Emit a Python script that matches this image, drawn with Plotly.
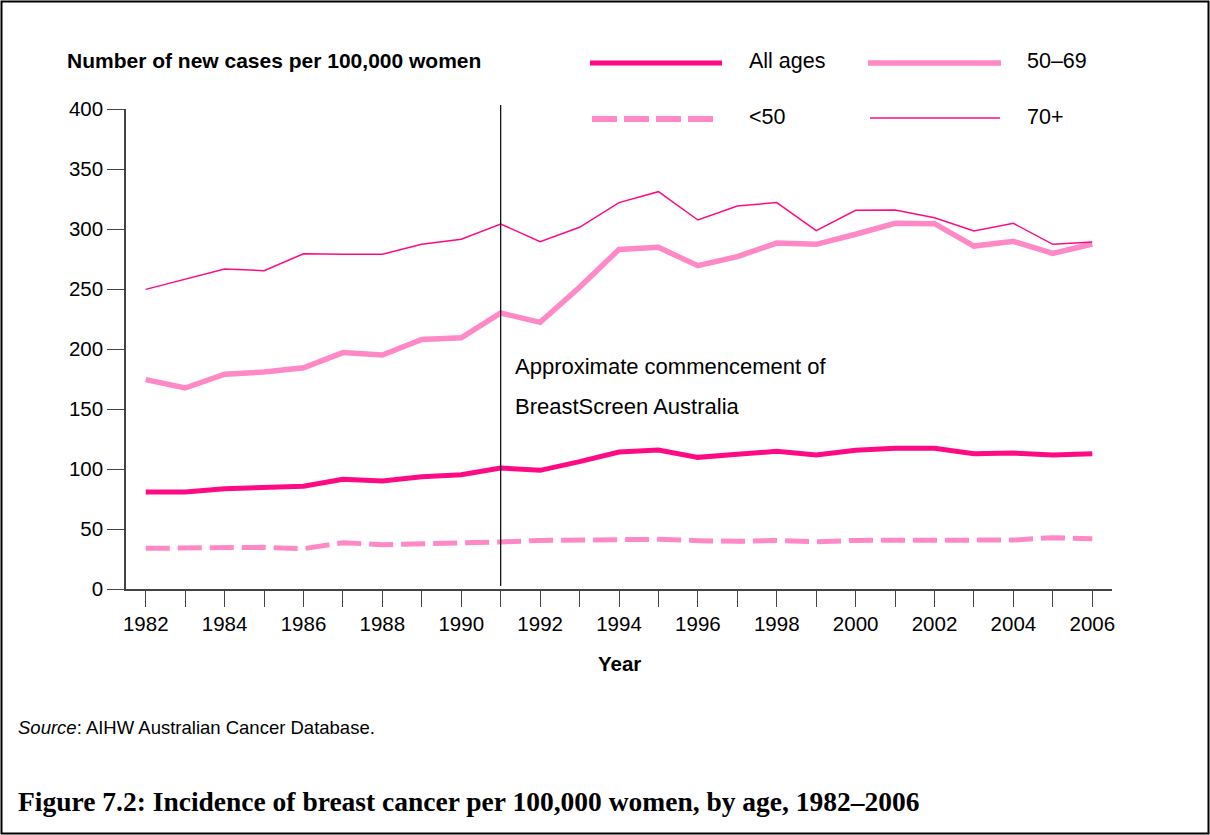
import plotly.graph_objects as go

# ---------------- data ----------------
years = [1982, 1983, 1984, 1985, 1986, 1987, 1988, 1989, 1990, 1991, 1992, 1993,
         1994, 1995, 1996, 1997, 1998, 1999, 2000, 2001, 2002, 2003, 2004, 2005, 2006]

all_ages = [80.8, 80.8, 83.6, 84.4, 85.6, 91.4, 90.0, 93.6, 95.3, 100.8, 98.9, 106.1,
            114.2, 115.8, 109.7, 112.2, 114.7, 111.7, 115.6, 117.2, 117.2, 112.8, 113.3, 111.7, 112.8]

under_50 = [33.9, 34.2, 34.4, 34.7, 33.6, 38.6, 36.9, 37.5, 38.3, 39.2, 40.5, 40.5,
            41.4, 41.4, 40.3, 39.7, 40.5, 39.4, 40.5, 40.5, 41.4, 41.4, 40.8, 42.8, 41.9]

age_50_69 = [174.5, 167.5, 179.0, 180.8, 184.4, 197.0, 195.0, 208.0, 209.4, 230.0, 222.2, 251.4,
             283.0, 284.7, 269.4, 277.0, 288.3, 287.2, 295.6, 304.7, 304.4, 285.8, 289.7, 279.7, 287.5]

age_70_plus = [249.7, 258.0, 266.7, 265.3, 279.4, 279.0, 279.0, 287.2, 291.4, 304.2, 289.4, 301.4,
               322.0, 331.1, 307.5, 319.2, 322.0, 298.6, 315.6, 315.8, 309.4, 298.3, 304.7, 287.2, 289.2]

y_ticks = [0, 50, 100, 150, 200, 250, 300, 350, 400]
x_tick_labels = [str(y) if y % 2 == 0 else "" for y in years]

series_names = ["All ages", "50\u201369", "<50", "70+"]
screen_start_year = 1991

# ---------------- style ----------------
DEEP = "#FF0A85"
LIGHT = "#FF88C6"
FONT = "Liberation Sans, Arial, sans-serif"
SERIF = "Liberation Serif, Times New Roman, serif"

W, H = 1210, 835
ML, MR, MT, MB = 126, 98, 109, 246
PW, PH = W - ML - MR, H - MT - MB


def px(x):
    return (x - ML) / PW


def py(y):
    return (H - MB - y) / PH


fig = go.Figure()
fig.add_trace(go.Scatter(x=years, y=age_50_69, mode="lines", name=series_names[1],
                         line=dict(color=LIGHT, width=5.5)))
fig.add_trace(go.Scatter(x=years, y=age_70_plus, mode="lines", name=series_names[3],
                         line=dict(color=DEEP, width=1.5)))
fig.add_trace(go.Scatter(x=years, y=under_50, mode="lines", name=series_names[2],
                         line=dict(color=LIGHT, width=5, dash="24px,8px")))
fig.add_trace(go.Scatter(x=years, y=all_ages, mode="lines", name=series_names[0],
                         line=dict(color=DEEP, width=5)))

shapes = []
annotations = []

# vertical marker line
shapes.append(dict(type="line", xref="x", yref="paper", x0=screen_start_year, x1=screen_start_year,
                   y0=py(586), y1=py(105), line=dict(color="black", width=1.2)))

# outer frame
shapes.append(dict(type="rect", xref="paper", yref="paper", x0=px(1.5), x1=px(1208.5),
                   y0=py(833.5), y1=py(1.5), line=dict(color="black", width=2)))

# manual legend
legend_items = [
    (series_names[0], 590, 722, 63, 747, 61, dict(color=DEEP, width=5)),
    (series_names[1], 868, 1001, 63, 1025, 61, dict(color=LIGHT, width=5.5)),
    (series_names[2], 592, 713, 119, 747, 117, dict(color=LIGHT, width=6, dash="25px,7px")),
    (series_names[3], 870, 1000, 118, 1025, 117, dict(color=DEEP, width=1.3)),
]
for name, x0, x1, ly, tx, ty, ln in legend_items:
    shapes.append(dict(type="line", xref="paper", yref="paper", x0=px(x0), x1=px(x1),
                       y0=py(ly), y1=py(ly), line=ln))
    annotations.append(dict(xref="paper", yref="paper", x=px(tx), y=py(ty), text=name,
                            showarrow=False, xanchor="left", yanchor="middle",
                            font=dict(family=FONT, size=21.5, color="black")))

# y-axis title
annotations.append(dict(xref="paper", yref="paper", x=px(65), y=py(60),
                        text="<b>Number of new cases per 100,000 women</b>", showarrow=False,
                        xanchor="left", yanchor="middle",
                        font=dict(family=FONT, size=21, color="black")))
# x-axis title
annotations.append(dict(xref="paper", yref="paper", x=px(619), y=py(663),
                        text="<b>Year</b>", showarrow=False, xanchor="center", yanchor="middle",
                        font=dict(family=FONT, size=20.5, color="black")))
# annotation text
annotations.append(dict(xref="paper", yref="paper", x=px(513), y=py(366),
                        text="Approximate commencement of", showarrow=False,
                        xanchor="left", yanchor="middle",
                        font=dict(family=FONT, size=22, color="black")))
annotations.append(dict(xref="paper", yref="paper", x=px(513), y=py(406),
                        text="BreastScreen Australia", showarrow=False,
                        xanchor="left", yanchor="middle",
                        font=dict(family=FONT, size=22, color="black")))
# source
annotations.append(dict(xref="paper", yref="paper", x=px(16), y=py(727),
                        text="<i>Source</i>: AIHW Australian Cancer Database.", showarrow=False,
                        xanchor="left", yanchor="middle",
                        font=dict(family=FONT, size=18.5, color="black")))
# caption
annotations.append(dict(xref="paper", yref="paper", x=px(16), y=py(801),
                        text="<b>Figure 7.2: Incidence of breast cancer per 100,000 women, by age, 1982\u20132006</b>",
                        showarrow=False, xanchor="left", yanchor="middle",
                        font=dict(family=SERIF, size=27.5, color="black")))

fig.update_layout(
    width=W, height=H,
    margin=dict(l=ML, r=MR, t=MT, b=MB, pad=0),
    paper_bgcolor="white", plot_bgcolor="white",
    showlegend=False,
    shapes=shapes, annotations=annotations,
    font=dict(family=FONT, size=20, color="black"),
)
fig.update_xaxes(range=[1981.5, 2006.5], tickmode="array", tickvals=years, ticktext=x_tick_labels,
                 ticks="outside", ticklen=16, tickwidth=1.2, tickcolor="#444",
                 showline=True, linecolor="#444", linewidth=1.5, showgrid=False, zeroline=False,
                 tickfont=dict(family=FONT, size=20.5, color="black"))
fig.update_yaxes(range=[0, 400], tickmode="array", tickvals=y_ticks,
                 ticks="outside", ticklen=17, tickwidth=1.2, tickcolor="#444",
                 showline=True, linecolor="#444", linewidth=1.5, showgrid=False, zeroline=False,
                 tickfont=dict(family=FONT, size=20.5, color="black"))

fig.write_html("out.html", config={"displayModeBar": False},
               post_script="document.body.style.margin='0';document.body.style.overflow='hidden';")
